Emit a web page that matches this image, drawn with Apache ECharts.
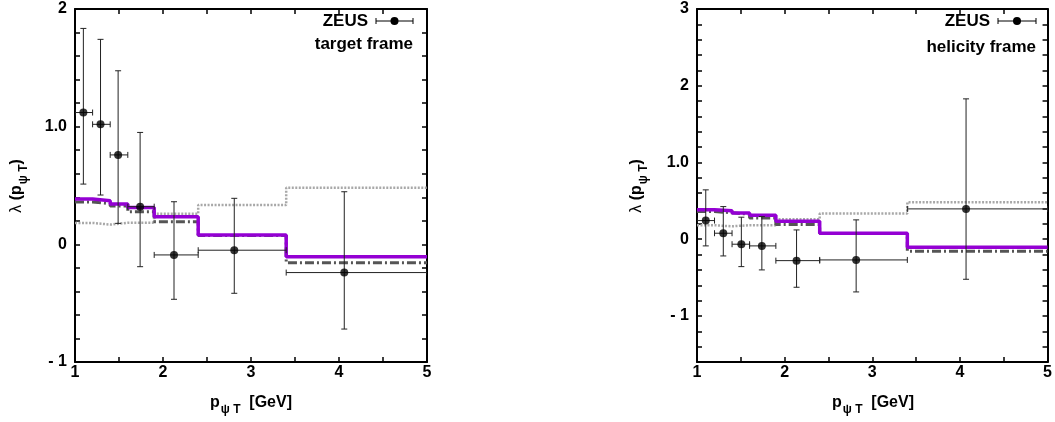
<!DOCTYPE html>
<html>
<head>
<meta charset="utf-8">
<script src="https://cdn.jsdelivr.net/npm/echarts@6/dist/echarts.min.js"></script>
<style>
  html, body { margin: 0; padding: 0; background: #fff; }
  #chart { width: 1055px; height: 422px; }
</style>
</head>
<body>
<div id="chart"></div>
<script>
// pT bin edges (GeV) shared by the measurements and the predictions
const binEdges = [1, 1.2, 1.4, 1.6, 1.9, 2.4, 3.4, 5];

// Theory predictions per bin (same in both frames)
const theorySolid   = [0.385, 0.37, 0.342, 0.312, 0.235, 0.079, -0.105];
const theoryDashDot = [0.36, 0.345, 0.325, 0.277, 0.192, 0.075, -0.156];
const theoryDotted  = [0.182, 0.168, 0.183, 0.183, 0.26, 0.334, 0.481];

// ZEUS, target frame
const targetX     = [1.095, 1.29, 1.49, 1.74, 2.125, 2.81, 4.06];
const targetY     = [1.12, 1.02, 0.76, 0.32, -0.09, -0.05, -0.24];
const targetUpper = [1.835, 1.742, 1.475, 0.951, 0.362, 0.391, 0.447];
const targetLower = [0.512, 0.419, 0.178, -0.19, -0.467, -0.416, -0.72];

// ZEUS, helicity frame
const helicityX     = [1.1, 1.3, 1.506, 1.74, 2.136, 2.816, 4.07];
const helicityY     = [0.243, 0.078, -0.065, -0.087, -0.279, -0.27, 0.395];
const helicityUpper = [0.643, 0.425, 0.287, 0.295, 0.121, 0.252, 1.829];
const helicityLower = [-0.087, -0.218, -0.357, -0.4, -0.626, -0.687, -0.522];

// Tick labels
const xTickValues = [1, 2, 3, 4, 5];
const xTickLabels = ['1', '2', '3', '4', '5'];
const yTickValuesTarget = [-1, 0, 1, 2];
const yTickLabelsTarget = ['- 1', '0', '1.0', '2'];
const yTickValuesHelicity = [-1, 0, 1, 2, 3];
const yTickLabelsHelicity = ['- 1', '0', '1.0', '2', '3'];

const FONT = '"Liberation Sans", Arial, Helvetica, sans-serif';

function tickLabel(v, values, labels) {
  for (let i = 0; i < values.length; i++) {
    if (Math.abs(v - values[i]) < 1e-6) return labels[i];
  }
  return '';
}

function stepData(values) {
  const pts = values.map((v, i) => [binEdges[i], v]);
  pts.push([binEdges[binEdges.length - 1], values[values.length - 1]]);
  return pts;
}

function errorData(xs, ys, lo, hi) {
  return xs.map((x, i) => [x, ys[i], binEdges[i], binEdges[i + 1], lo[i], hi[i]]);
}

const axisLine = { show: true, onZero: false, lineStyle: { color: '#000', width: 2 } };
const axisTick = { show: true, inside: true, length: 5, lineStyle: { color: '#000', width: 1.5 } };

function xAxisFor(gridIndex, position, showLabels) {
  return {
    type: 'value', gridIndex, position, min: 1, max: 5, interval: 0.5,
    axisLine, axisTick, splitLine: { show: false },
    axisLabel: {
      show: showLabels, margin: 3, color: '#000', fontFamily: FONT, fontWeight: 'bold', fontSize: 16,
      showMinLabel: true, showMaxLabel: true,
      formatter: v => tickLabel(v, xTickValues, xTickLabels)
    }
  };
}

function yAxisFor(gridIndex, position, showLabels, min, max, values, labels) {
  return {
    type: 'value', gridIndex, position, min, max, interval: 0.2,
    axisLine, axisTick, splitLine: { show: false },
    axisLabel: {
      show: showLabels, margin: 8, color: '#000', fontFamily: FONT, fontWeight: 'bold', fontSize: 16,
      showMinLabel: true, showMaxLabel: true,
      formatter: v => tickLabel(v, values, labels)
    }
  };
}

function renderErrorBar(params, api) {
  const x = api.value(0), y = api.value(1);
  const top = api.coord([x, api.value(5)]);
  const bot = api.coord([x, api.value(4)]);
  const left = api.coord([api.value(2), y]);
  const right = api.coord([api.value(3), y]);
  const cap = 3;
  const style = { stroke: '#222', lineWidth: 1 };
  const seg = (x1, y1, x2, y2) => ({ type: 'line', shape: { x1, y1, x2, y2 }, style });
  return {
    type: 'group',
    children: [
      seg(top[0], top[1], bot[0], bot[1]),
      seg(top[0] - cap, top[1], top[0] + cap, top[1]),
      seg(bot[0] - cap, bot[1], bot[0] + cap, bot[1]),
      seg(left[0], left[1], right[0], right[1]),
      seg(left[0], left[1] - cap, left[0], left[1] + cap),
      seg(right[0], right[1] - cap, right[0], right[1] + cap)
    ]
  };
}

function panelSeries(xi, yi, xs, ys, lo, hi) {
  const base = { xAxisIndex: xi, yAxisIndex: yi };
  return [
    Object.assign({ type: 'line', step: 'end', showSymbol: false, silent: true, z: 1,
      data: stepData(theoryDotted),
      lineStyle: { color: '#a8a8a8', width: 2.5, type: [2, 1.5], cap: 'butt' } }, base),
    Object.assign({ type: 'line', step: 'end', showSymbol: false, silent: true, z: 2,
      data: stepData(theoryDashDot),
      lineStyle: { color: '#555', width: 3, type: [9, 3, 2, 3], cap: 'butt' } }, base),
    Object.assign({ type: 'line', step: 'end', showSymbol: false, silent: true, z: 3,
      data: stepData(theorySolid),
      lineStyle: { color: '#9400d3', width: 3.5, cap: 'butt' } }, base),
    Object.assign({ type: 'custom', z: 4, clip: true, silent: true,
      renderItem: renderErrorBar,
      encode: { x: [0, 2, 3], y: [1, 4, 5] },
      data: errorData(xs, ys, lo, hi) }, base),
    Object.assign({ type: 'scatter', z: 5, symbol: 'circle', symbolSize: 8, silent: true,
      itemStyle: { color: '#000' },
      data: xs.map((x, i) => [x, ys[i]]) }, base)
  ];
}

function legendKey(textRight, lineLeft, lineRight, y, frameLabel, frameY) {
  const ls = { stroke: '#000', lineWidth: 1 };
  return [
    { type: 'text', x: textRight, y, style: { text: 'ZEUS', font: 'bold 17px ' + FONT, fill: '#000',
      align: 'right', verticalAlign: 'middle', textAlign: 'right', textVerticalAlign: 'middle' } },
    { type: 'line', shape: { x1: lineLeft, y1: y, x2: lineRight, y2: y }, style: ls },
    { type: 'line', shape: { x1: lineLeft, y1: y - 3, x2: lineLeft, y2: y + 3 }, style: ls },
    { type: 'line', shape: { x1: lineRight, y1: y - 3, x2: lineRight, y2: y + 3 }, style: ls },
    { type: 'circle', shape: { cx: (lineLeft + lineRight) / 2, cy: y, r: 4 }, style: { fill: '#000' } },
    { type: 'text', x: lineRight, y: frameY, style: { text: frameLabel, font: 'bold 17px ' + FONT, fill: '#000',
      align: 'right', verticalAlign: 'middle', textAlign: 'right', textVerticalAlign: 'middle' } }
  ];
}

const titleRich = {
  a: { fontFamily: FONT, fontWeight: 'bold', fontSize: 16, lineHeight: 18, verticalAlign: 'top', fill: '#000', color: '#000' },
  l: { fontFamily: FONT, fontWeight: 'normal', fontSize: 16, lineHeight: 18, verticalAlign: 'top', fill: '#000', color: '#000' },
  s: { fontFamily: FONT, fontWeight: 'bold', fontSize: 12, lineHeight: 12, verticalAlign: 'top', padding: [9, 0, 0, 1], fill: '#000', color: '#000' }
};

function xTitle(cx, cy) {
  return { type: 'text', x: cx, y: cy, style: {
    text: '{a|p}{s|ψ T}{a|  [GeV]}', rich: titleRich,
    align: 'center', verticalAlign: 'middle', textAlign: 'center', textVerticalAlign: 'middle' } };
}

function yTitle(cx, cy) {
  return { type: 'text', x: cx, y: cy, rotation: Math.PI / 2, style: {
    text: '{l|λ}{a| (p}{s|ψ T}{a|)}', rich: titleRich,
    align: 'center', verticalAlign: 'middle', textAlign: 'center', textVerticalAlign: 'middle' } };
}

const chart = echarts.init(document.getElementById('chart'), null, { renderer: 'canvas' });

chart.setOption({
  animation: false,
  backgroundColor: '#fff',
  grid: [
    { left: 75, top: 9, width: 352, height: 353 },
    { left: 697, top: 9, width: 351, height: 353 }
  ],
  xAxis: [
    xAxisFor(0, 'bottom', true),
    xAxisFor(0, 'top', false),
    xAxisFor(1, 'bottom', true),
    xAxisFor(1, 'top', false)
  ],
  yAxis: [
    yAxisFor(0, 'left', true, -1, 2, yTickValuesTarget, yTickLabelsTarget),
    yAxisFor(0, 'right', false, -1, 2, yTickValuesTarget, yTickLabelsTarget),
    yAxisFor(1, 'left', true, -1.6, 3, yTickValuesHelicity, yTickLabelsHelicity),
    yAxisFor(1, 'right', false, -1.6, 3, yTickValuesHelicity, yTickLabelsHelicity)
  ],
  series: [].concat(
    panelSeries(0, 0, targetX, targetY, targetLower, targetUpper),
    panelSeries(2, 2, helicityX, helicityY, helicityLower, helicityUpper)
  ),
  graphic: [].concat(
    legendKey(368, 376, 413, 21, 'target frame', 44),
    legendKey(990, 998, 1036, 21, 'helicity frame', 47),
    [xTitle(251, 404), xTitle(873, 404), yTitle(18, 186), yTitle(638, 186)]
  )
});
</script>
</body>
</html>
